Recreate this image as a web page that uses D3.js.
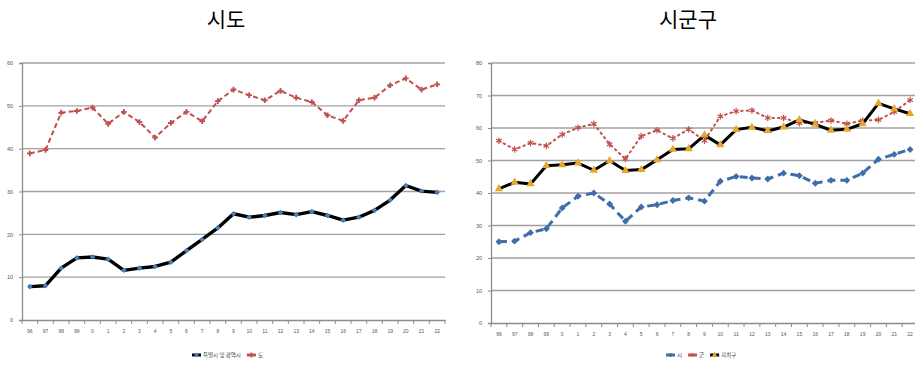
<!DOCTYPE html>
<html>
<head>
<meta charset="utf-8">
<script src="https://cdn.jsdelivr.net/npm/d3@7"></script>
<style>
  body { margin: 0; background: #fff; }
  svg { display: block; font-family: "Noto Sans CJK KR", "Noto Sans", sans-serif; }
</style>
</head>
<body>
<svg id="chart" width="915" height="365"></svg>
<script>
// categories (years)
const years = ["96","97","98","99","0","1","2","3","4","5","6","7","8","9","10","11","12","13","14","15","16","17","18","19","20","21","22"];

// 시도
const metro = [7.8,8.0,12.1,14.5,14.7,14.2,11.6,12.1,12.5,13.5,16.2,18.8,21.5,24.8,24.0,24.4,25.1,24.6,25.3,24.4,23.3,24.0,25.6,28.0,31.4,30.1,29.8];
const province = [38.9,39.7,48.4,48.8,49.6,45.8,48.6,46.2,42.6,46.0,48.6,46.4,51.1,53.8,52.5,51.3,53.5,51.9,50.9,47.8,46.5,51.3,51.9,54.8,56.4,53.8,55.0];

// 시군구
const city = [25.0,25.2,27.8,29.0,35.4,39.0,40.0,36.6,31.3,35.7,36.4,37.7,38.5,37.5,43.6,45.1,44.6,44.3,46.1,45.3,43.0,43.9,43.9,46.1,50.4,51.9,53.4];
const county = [56.1,53.4,55.4,54.5,58.0,60.1,61.3,55.0,50.5,57.5,59.3,56.8,59.6,56.1,63.6,65.2,65.4,63.1,63.1,61.5,61.6,62.3,61.3,62.3,62.5,65.0,68.6];
const district = [41.3,43.3,42.8,48.4,48.7,49.2,47.0,49.9,46.9,47.2,50.2,53.4,53.6,57.8,54.8,59.5,60.2,59.1,60.3,62.5,61.1,59.3,59.6,61.3,67.6,65.9,64.4];

const leftTicks = [0,10,20,30,40,50,60];
const rightTicks = [0,10,20,30,40,50,60,70,80];

const red = "#c0504d";
const blue = "#3d6ea8";
const yellow = "#e8a62c";
const diamond = d3.symbolDiamond2 || d3.symbolDiamond;

const svg = d3.select("#chart");

function panel(opt) {
  const x = d3.scaleBand().domain(years).range([opt.x0, opt.x1]);
  const y = d3.scaleLinear().domain([0, opt.max]).range([opt.y0, opt.y1]);
  const g = svg.append("g");

  // gridlines
  g.append("g").selectAll("line")
    .data(opt.ticks.filter(t => t > 0))
    .enter().append("line")
    .attr("x1", opt.x0).attr("x2", opt.x1)
    .attr("y1", d => y(d)).attr("y2", d => y(d))
    .attr("stroke", "#a0a0a0").attr("stroke-width", 1.3);

  // y axis
  const ya = g.append("g")
    .attr("transform", `translate(${opt.x0},0)`)
    .call(d3.axisLeft(y).tickValues(opt.ticks).tickSize(3).tickPadding(6));
  ya.select(".domain").attr("stroke", "#8c8c8c").attr("stroke-width", 1.3);
  ya.selectAll(".tick line").attr("stroke", "#8c8c8c");
  ya.selectAll("text").attr("font-size", 5.5).attr("fill", "#555");

  // x axis
  const xa = g.append("g")
    .attr("transform", `translate(0,${opt.y0})`)
    .call(d3.axisBottom(x).tickSize(0).tickPadding(9));
  xa.select(".domain").attr("stroke", "#8c8c8c").attr("stroke-width", 1.3);
  xa.selectAll("text").attr("font-size", 5).attr("fill", "#555");
  g.append("g").selectAll("line")
    .data(years.concat(["end"]))
    .enter().append("line")
    .attr("x1", (d, i) => opt.x0 + i * x.step()).attr("x2", (d, i) => opt.x0 + i * x.step())
    .attr("y1", opt.y0).attr("y2", opt.y0 + 4)
    .attr("stroke", "#8c8c8c");

  // title
  svg.append("text")
    .attr("x", opt.titleX).attr("y", 27)
    .attr("text-anchor", "middle")
    .attr("font-size", 21)
    .text(opt.title);

  const cx = d => x(d) + x.bandwidth() / 2;

  opt.series.forEach(s => {
    const line = d3.line().x((d, i) => cx(years[i])).y(d => y(d));
    g.append("path").datum(s.values)
      .attr("d", line)
      .attr("fill", "none")
      .attr("stroke", s.color)
      .attr("stroke-width", s.width)
      .attr("stroke-dasharray", s.dash)
      .attr("stroke-linecap", s.cap || "butt")
      .attr("stroke-linejoin", "round");
    g.append("g").selectAll("path")
      .data(s.values)
      .enter().append("path")
      .attr("transform", (d, i) => `translate(${cx(years[i])},${y(d)})`)
      .attr("d", d3.symbol().type(s.symbol).size(s.size)())
      .attr("fill", s.markerFill)
      .attr("stroke", s.markerStroke || "none")
      .attr("stroke-width", s.markerStrokeWidth || 0);
  });

  // legend
  let lx = opt.legendX;
  const ly = 355;
  opt.series.forEach(s => {
    g.append("line")
      .attr("x1", lx).attr("x2", lx + 9).attr("y1", ly).attr("y2", ly)
      .attr("stroke", s.color).attr("stroke-width", 3);
    g.append("path")
      .attr("transform", `translate(${lx + 4.5},${ly})`)
      .attr("d", d3.symbol().type(s.symbol).size(14)())
      .attr("fill", s.markerFill)
      .attr("stroke", s.markerStroke || "none")
      .attr("stroke-width", s.markerStroke ? 0.6 : 0);
    const t = g.append("text")
      .attr("x", lx + 11).attr("y", ly + 2)
      .attr("font-size", 5.5).attr("fill", "#444")
      .text(s.name);
    lx += 11 + t.node().getComputedTextLength() + 6;
  });
}

panel({
  title: "시도", titleX: 226,
  x0: 22, x1: 445, y0: 320, y1: 63, max: 60, ticks: leftTicks,
  legendX: 192,
  series: [
    { name: "특별시 및 광역시", values: metro, color: "#000", width: 3.4, dash: null, cap: "round",
      symbol: diamond, size: 20, markerFill: "#4a7ebb" },
    { name: "도", values: province, color: red, width: 2, dash: "5,3",
      symbol: d3.symbolCross, size: 18, markerFill: red }
  ]
});

panel({
  title: "시군구", titleX: 688,
  x0: 491, x1: 918, y0: 323, y1: 63, max: 80, ticks: rightTicks,
  legendX: 666,
  series: [
    { name: "시", values: city, color: blue, width: 3, dash: "8,5",
      symbol: diamond, size: 30, markerFill: blue },
    { name: "군", values: county, color: red, width: 2, dash: "1.5,4", cap: "round",
      symbol: d3.symbolAsterisk || d3.symbolCross, size: 30, markerFill: "none",
      markerStroke: red, markerStrokeWidth: 1.2 },
    { name: "자치구", values: district, color: "#000", width: 3, dash: null, cap: "round",
      symbol: d3.symbolTriangle, size: 30, markerFill: yellow }
  ]
});
</script>
</body>
</html>
